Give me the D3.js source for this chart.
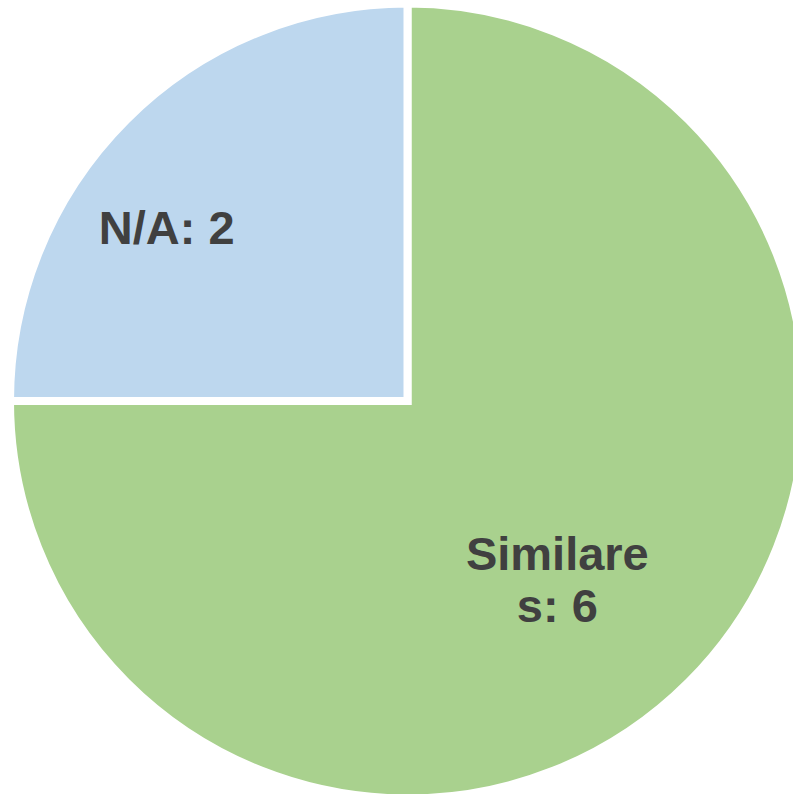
<!DOCTYPE html>
<meta charset="utf-8">
<style>

body {
  margin: 0;
  overflow: hidden;
  background: #fff;
}
.slices path {
  stroke: #fff;
  stroke-width: 8px;
  stroke-linejoin: miter;
}
.labels text {
  font-family: "Liberation Sans", Arial, sans-serif;
  font-weight: bold;
  font-size: 47px;
  fill: #404040;
  text-anchor: middle;
}

</style>
<svg id="svg" width="793" height="794"></svg>
<script src="https://d3js.org/d3.v7.min.js"></script>
<script>

// data
var categories = ["Similares", "N/A"];
var values = [6, 2];
var labelLines = [["Similare", "s: 6"], ["N/A: 2"]];

var colors = ["#a9d18e", "#bdd7ee"];

var svg = d3.select("svg"),
    width = +svg.attr("width"),
    height = +svg.attr("height");

var cx = 407.5, cy = 401, radius = 397.5;

var color = d3.scaleOrdinal().domain(categories).range(colors);

var pie = d3.pie().sort(null).value(function(d) { return d.value; });

var arc = d3.arc().innerRadius(0).outerRadius(radius);

var data = categories.map(function(c, i) {
  return { name: c, value: values[i], lines: labelLines[i] };
});

var g = svg.append("g")
    .attr("transform", "translate(" + cx + "," + cy + ")");

g.append("g")
    .attr("class", "slices")
  .selectAll("path")
  .data(pie(data))
  .enter().append("path")
    .attr("d", arc)
    .attr("fill", function(d) { return color(d.data.name); });

// label placement, roughly where excel put them
var labelPos = {
  "Similares": { r: 233, da: 0.087 },
  "N/A": { r: 297, da: -0.16 }
};
var lineHeight = 52;

var labels = g.append("g")
    .attr("class", "labels")
  .selectAll("text")
  .data(pie(data))
  .enter().append("text")
    .attr("transform", function(d) {
      var p = labelPos[d.data.name];
      var a = (d.startAngle + d.endAngle) / 2 + p.da;
      var pt = d3.pointRadial(a, p.r);
      return "translate(" + pt[0] + "," + pt[1] + ")";
    });

labels.selectAll("tspan")
  .data(function(d) {
    var n = d.data.lines.length;
    return d.data.lines.map(function(t, i) { return { t: t, dy: (i - (n - 1) / 2) * lineHeight }; });
  })
  .enter().append("tspan")
    .attr("x", 0)
    .attr("y", function(d) { return d.dy; })
    .attr("dy", "0.36em")
    .text(function(d) { return d.t; });

</script>
